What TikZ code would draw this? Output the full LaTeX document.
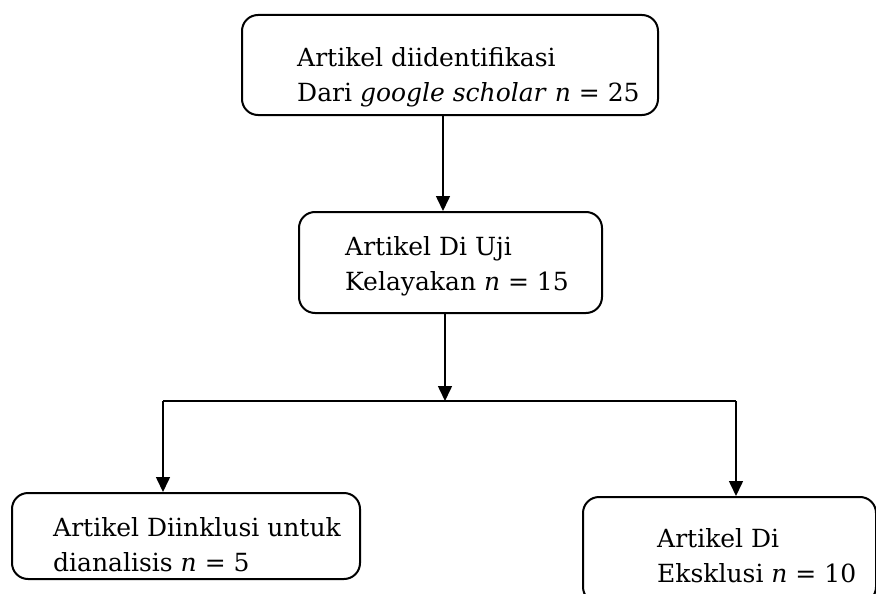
\documentclass[tikz,border=0pt]{standalone}
\usepackage{fontspec}
\setmainfont{DejaVu Serif}
\usetikzlibrary{arrows.meta}
\tikzset{
  boxnode/.style={draw, line width=2pt, rounded corners=16pt, inner sep=0pt},
  boxtext/.style={anchor=west, align=left, inner sep=0pt,
    font=\fontsize{25}{35}\selectfont},
  arr/.style={line width=1.6pt, -{Triangle[length=15pt,width=14pt]}},
  bar/.style={line width=1.6pt}
}
\begin{document}
\begin{tikzpicture}[x=1pt,y=-1pt]
\useasboundingbox (0,0) rectangle (876,594);
% boxes
\node[boxnode, minimum width=416pt, minimum height=100pt] (ident) at (450,65) {};
\node[boxnode, minimum width=303pt, minimum height=101pt] (uji) at (450.5,262.5) {};
\node[boxnode, minimum width=348pt, minimum height=86pt] (inkl) at (186,536) {};
\node[boxnode, minimum width=293pt, minimum height=106pt] (eks) at (729.5,550) {};
% texts
\node[boxtext] (identtxt) at (297,77) {Artikel diidentifikasi\\Dari \textit{google scholar} \textit{n} = 25};
\node[boxtext] (ujitxt) at (345,266) {Artikel Di Uji\\Kelayakan \textit{n} = 15};
\node[boxtext] (inkltxt) at (53,545) {Artikel Diinklusi untuk\\dianalisis \textit{n} = 5};
\node[boxtext] (ekstxt) at (657,556) {Artikel Di\\Eksklusi \textit{n} = 10};
% connectors
\coordinate (split) at (445,401);
\coordinate (barL) at (163,401);
\coordinate (barR) at (736,401);
\draw[arr] ([xshift=-7pt]ident.south) -- ([xshift=-7.5pt]uji.north);
\draw[arr] (split |- uji.south) -- (split);
\draw[bar] (barL) -- (barR);
\draw[arr] (barL) -- (barL |- inkl.north);
\draw[arr] (barR) -- (barR |- eks.north);
\end{tikzpicture}
\end{document}
